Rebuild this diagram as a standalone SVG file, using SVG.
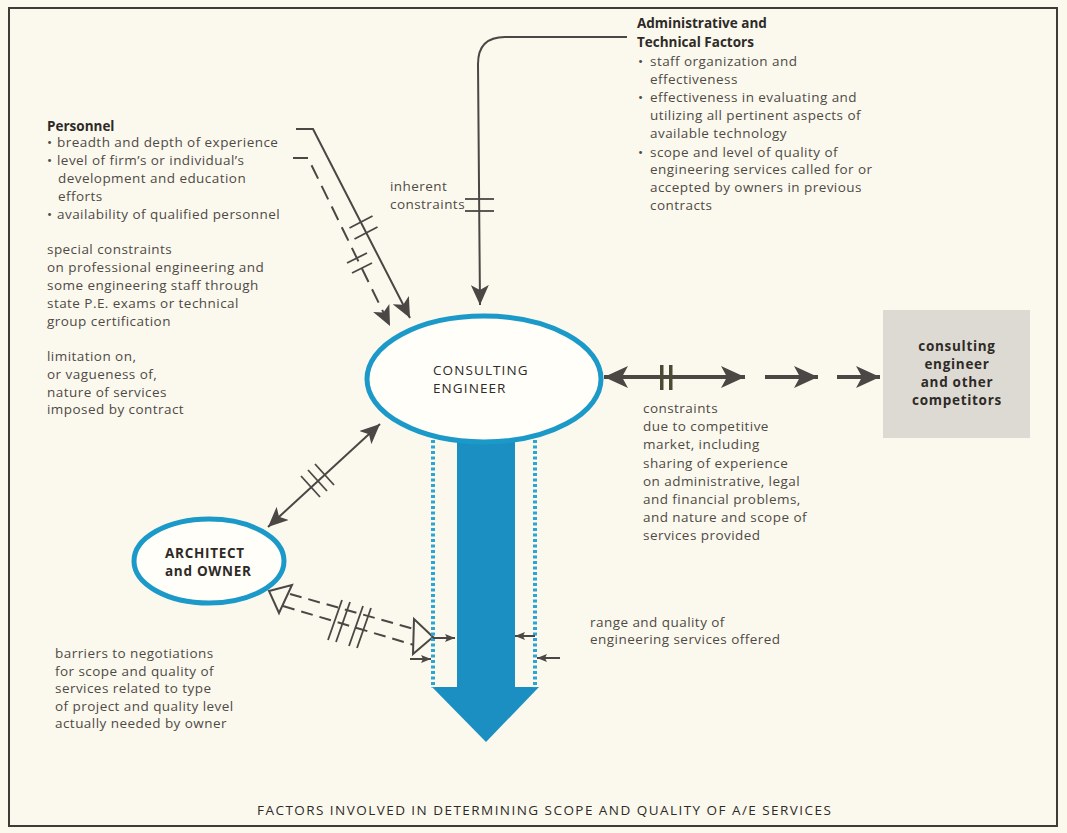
<svg xmlns="http://www.w3.org/2000/svg" width="1067" height="833" viewBox="0 0 1067 833">
<defs>
<style>
.t{font-family:"Open Sans","Liberation Sans",sans-serif;font-size:13.5px;fill:#4f4a45;letter-spacing:0.45px}
.b{font-family:"Open Sans","Liberation Sans",sans-serif;font-size:13.5px;font-weight:bold;fill:#2e2a27}
.bs{font-family:"Open Sans","Liberation Sans",sans-serif;font-size:13.5px;font-weight:bold;fill:#2e2a27;letter-spacing:0.7px}
.c{font-family:"Open Sans","Liberation Sans",sans-serif;font-size:13.5px;fill:#2e2a27;letter-spacing:1.1px}
.ln{fill:none;stroke:#4a4744;stroke-width:2}
.hs{fill:none;stroke:#4a4744;stroke-width:1.8}
.dot{stroke:#2aa5d6;stroke-width:4;stroke-dasharray:3 2.5}
.thick{fill:none;stroke:#4a4744;stroke-width:4}
</style>
<marker id="ah" markerUnits="userSpaceOnUse" markerWidth="20" markerHeight="18" refX="20" refY="9" orient="auto-start-reverse" viewBox="0 0 20 18">
<path d="M0,0 L20,9 L0,18 L5,9 z" fill="#4a4744"/>
</marker>
<marker id="ahb" markerUnits="userSpaceOnUse" markerWidth="24" markerHeight="22" refX="24" refY="11" orient="auto-start-reverse" viewBox="0 0 24 22">
<path d="M0,0 L24,11 L0,22 L6,11 z" fill="#4a4744"/>
</marker>
<marker id="sa" markerUnits="userSpaceOnUse" markerWidth="10" markerHeight="8" refX="10" refY="4" orient="auto" viewBox="0 0 10 8">
<path d="M0,0 L10,4 L0,8 L2,4 z" fill="#4a4744"/>
</marker>
</defs>
<rect x="0" y="0" width="1067" height="833" fill="#fbf9ee"/>
<rect x="9" y="8" width="1048" height="818" fill="none" stroke="#3e3b38" stroke-width="2"/>

<g id="connectors">
<path class="ln" d="M296,129 L313,129 L410,318" marker-end="url(#ah)"/>
<path class="ln" d="M293,158 L308,158 L390,326" stroke-dasharray="15 8" marker-end="url(#ah)"/>
<line class="hs" x1="349.5" y1="228" x2="372.5" y2="216"/>
<line class="hs" x1="354.5" y1="239" x2="377.5" y2="227"/>
<line class="hs" x1="347" y1="263" x2="367" y2="253"/>
<line class="hs" x1="352" y1="273" x2="372" y2="263"/>
<path class="ln" d="M627,37 L505,37 Q478,37 478,64 L480,305" marker-end="url(#ah)"/>
<line class="hs" x1="465" y1="199" x2="494" y2="199"/>
<line class="hs" x1="465" y1="211" x2="494" y2="211"/>
<line class="ln" x1="268" y1="527" x2="380" y2="424" marker-start="url(#ah)" marker-end="url(#ah)"/>
<line class="hs" x1="301" y1="476" x2="320" y2="497"/>
<line class="hs" x1="308" y1="470" x2="327" y2="491"/>
<line class="hs" x1="315" y1="464" x2="334" y2="485"/>
<line class="thick" x1="604" y1="377" x2="745" y2="377" marker-start="url(#ahb)" marker-end="url(#ahb)"/>
<rect x="660" y="365" width="3.5" height="25" fill="#4b4a32"/>
<rect x="669" y="365" width="3.5" height="25" fill="#4b4a32"/>
<line class="thick" x1="765" y1="377" x2="818" y2="377" marker-end="url(#ahb)"/>
<line class="thick" x1="837" y1="377" x2="880" y2="377" marker-end="url(#ahb)"/>
<line class="ln" x1="290" y1="594" x2="414" y2="629" stroke-dasharray="12 7"/>
<line class="ln" x1="283" y1="606" x2="414" y2="645" stroke-dasharray="12 7"/>
<polygon points="269,591 292,585 279,613" fill="#fbf9ee" stroke="#4a4744" stroke-width="2"/>
<polygon points="433,637 414,619 413,654" fill="#fbf9ee" stroke="#4a4744" stroke-width="2"/>
<line class="hs" x1="328" y1="640" x2="342" y2="600"/>
<line class="hs" x1="336" y1="642" x2="350" y2="602"/>
<line class="hs" x1="349" y1="646" x2="363" y2="606"/>
<line class="hs" x1="357" y1="648" x2="371" y2="608"/>
</g>

<g id="flow">
<rect x="457" y="430" width="58" height="258" fill="#1b8fc1"/>
<polygon points="432,687 539,687 486,742" fill="#1b8fc1"/>
<line class="dot" x1="433" y1="440" x2="433" y2="688"/>
<line class="dot" x1="535" y1="440" x2="535" y2="688"/>
<line class="ln" x1="433" y1="638" x2="455" y2="638" stroke-width="1.5" marker-end="url(#sa)"/>
<line class="ln" x1="410" y1="659" x2="431" y2="659" stroke-width="1.5" marker-end="url(#sa)"/>
<line class="ln" x1="535" y1="636" x2="515" y2="636" stroke-width="1.5" marker-end="url(#sa)"/>
<line class="ln" x1="560" y1="658" x2="537" y2="658" stroke-width="1.5" marker-end="url(#sa)"/>
</g>

<g id="consulting-engineer">
<ellipse cx="484" cy="379" rx="117" ry="63" fill="#fffef9" stroke="#1b99c9" stroke-width="5"/>
<text class="c" x="433" y="375">CONSULTING</text>
<text class="c" x="433" y="393">ENGINEER</text>
</g>

<g id="architect-owner">
<ellipse cx="209" cy="561" rx="75" ry="42" fill="#fffef9" stroke="#1b99c9" stroke-width="5"/>
<text class="bs" x="165" y="558">ARCHITECT</text>
<text class="bs" x="165" y="576">and OWNER</text>
</g>

<g id="competitors">
<rect x="883" y="310" width="147" height="128" fill="#dddad3"/>
<text class="bs" text-anchor="middle" x="957" y="351">consulting</text>
<text class="bs" text-anchor="middle" x="957" y="369">engineer</text>
<text class="bs" text-anchor="middle" x="957" y="387">and other</text>
<text class="bs" text-anchor="middle" x="957" y="405">competitors</text>
</g>

<g id="personnel">
<text class="b" x="47" y="131">Personnel</text>
<text class="t" x="47" y="147">•</text><text class="t" x="57" y="147">breadth and depth of experience</text>
<text class="t" x="47" y="165">•</text><text class="t" x="57" y="165">level of firm’s or individual’s</text>
<text class="t" x="58" y="183">development and education</text>
<text class="t" x="58" y="201">efforts</text>
<text class="t" x="47" y="219">•</text><text class="t" x="57" y="219">availability of qualified personnel</text>
<text class="t" x="47" y="254">special constraints</text>
<text class="t" x="47" y="272">on professional engineering and</text>
<text class="t" x="47" y="290">some engineering staff through</text>
<text class="t" x="47" y="308">state P.E. exams or technical</text>
<text class="t" x="47" y="326">group certification</text>
<text class="t" x="47" y="361">limitation on,</text>
<text class="t" x="47" y="379">or vagueness of,</text>
<text class="t" x="47" y="397">nature of services</text>
<text class="t" x="47" y="414">imposed by contract</text>
</g>

<g id="admin-technical">
<text class="b" x="637" y="28">Administrative and</text>
<text class="b" x="637" y="47">Technical Factors</text>
<text class="t" x="638" y="66">•</text><text class="t" x="650" y="66">staff organization and</text>
<text class="t" x="650" y="84">effectiveness</text>
<text class="t" x="638" y="102">•</text><text class="t" x="650" y="102">effectiveness in evaluating and</text>
<text class="t" x="650" y="120">utilizing all pertinent aspects of</text>
<text class="t" x="650" y="138">available technology</text>
<text class="t" x="638" y="157">•</text><text class="t" x="650" y="157">scope and level of quality of</text>
<text class="t" x="650" y="174">engineering services called for or</text>
<text class="t" x="650" y="192">accepted by owners in previous</text>
<text class="t" x="650" y="210">contracts</text>
</g>

<g id="labels">
<text class="t" x="390" y="191">inherent</text>
<text class="t" x="390" y="209">constraints</text>
<text class="t" x="643" y="413">constraints</text>
<text class="t" x="643" y="431">due to competitive</text>
<text class="t" x="643" y="449">market, including</text>
<text class="t" x="643" y="468">sharing of experience</text>
<text class="t" x="643" y="486">on administrative, legal</text>
<text class="t" x="643" y="504">and financial problems,</text>
<text class="t" x="643" y="522">and nature and scope of</text>
<text class="t" x="643" y="540">services provided</text>
<text class="t" x="590" y="627">range and quality of</text>
<text class="t" x="590" y="644">engineering services offered</text>
<text class="t" x="55" y="658">barriers to negotiations</text>
<text class="t" x="55" y="676">for scope and quality of</text>
<text class="t" x="55" y="693">services related to type</text>
<text class="t" x="55" y="711">of project and quality level</text>
<text class="t" x="55" y="728">actually needed by owner</text>
<text class="c" x="257" y="815" font-size="13" textLength="575" lengthAdjust="spacing">FACTORS INVOLVED IN DETERMINING SCOPE AND QUALITY OF A/E SERVICES</text>
</g>
</svg>
